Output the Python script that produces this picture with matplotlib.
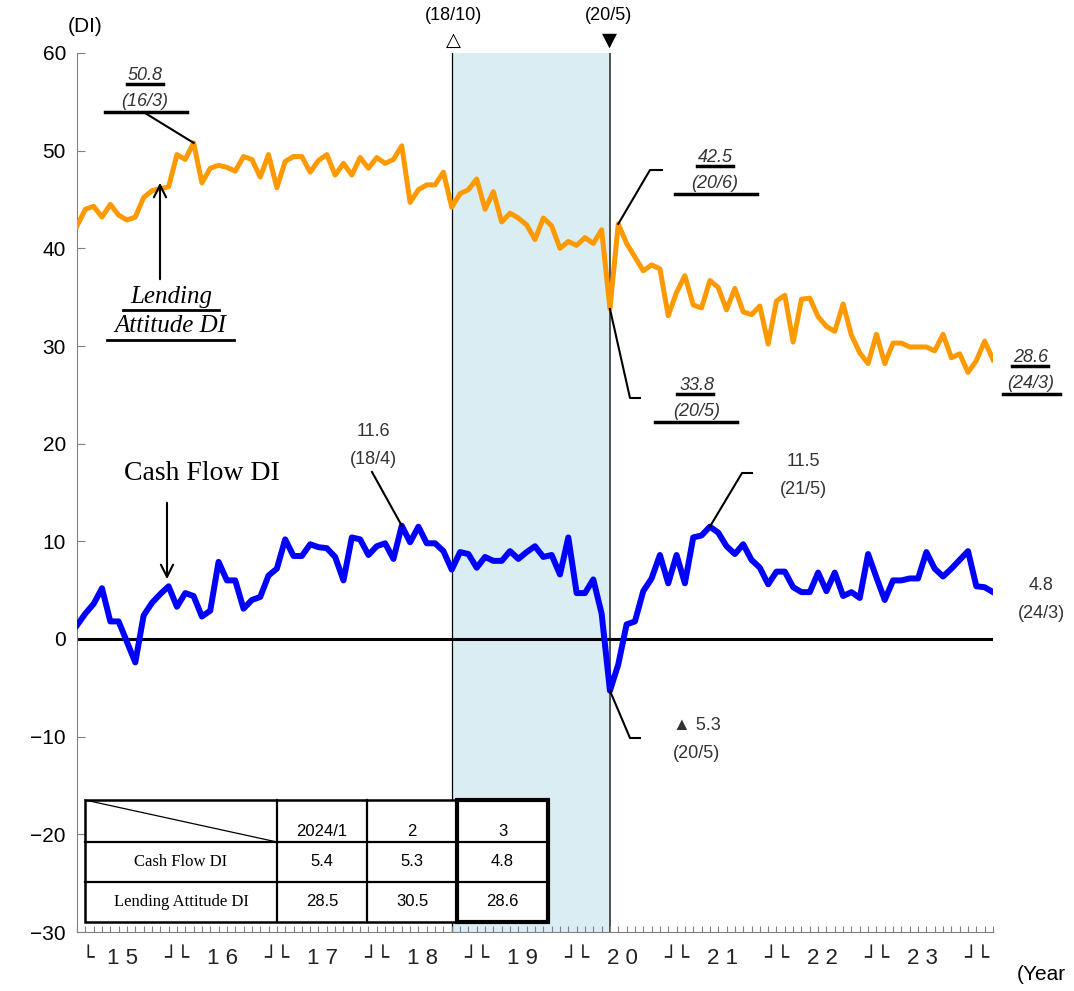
import matplotlib.pyplot as plt
import matplotlib.transforms as mtransforms
from matplotlib.lines import Line2D
from matplotlib.patches import Rectangle
import numpy as np

# monthly data, 2015/1 .. 2024/3
lending_di = [
    42.3, 44.0, 44.3, 43.2, 44.5, 43.4, 42.9, 43.2, 45.2, 45.9, 46.1, 46.3,  # 2015
    49.6, 49.1, 50.8, 46.7, 48.2, 48.5, 48.3, 47.9, 49.4, 49.1, 47.3, 49.6,  # 2016
    46.2, 48.9, 49.4, 49.4, 47.8, 49.0, 49.6, 47.5, 48.7, 47.5, 49.3, 48.2,  # 2017
    49.3, 48.7, 49.1, 50.5, 44.7, 46.0, 46.5, 46.5, 47.8, 44.2, 45.6, 46.0,  # 2018
    47.1, 44.0, 45.8, 42.7, 43.6, 43.1, 42.4, 40.9, 43.1, 42.3, 40.0, 40.7,  # 2019
    40.3, 41.1, 40.5, 41.9, 33.8, 42.5, 40.5, 39.1, 37.7, 38.3, 37.9, 33.1,  # 2020
    35.5, 37.2, 34.2, 33.9, 36.7, 36.0, 33.7, 35.9, 33.5, 33.2, 34.1, 30.2,  # 2021
    34.6, 35.2, 30.4, 34.8, 34.9, 33.0, 32.0, 31.5, 34.3, 31.1, 29.3, 28.2,  # 2022
    31.2, 28.2, 30.3, 30.3, 29.9, 29.9, 29.9, 29.5, 31.2, 28.8, 29.2, 27.3,  # 2023
    28.5, 30.5, 28.6,                                                        # 2024
]
cash_flow_di = [
    1.4, 2.6, 3.6, 5.2, 1.8, 1.8, -0.3, -2.4, 2.4, 3.7, 4.6, 5.4,
    3.3, 4.7, 4.4, 2.3, 2.9, 7.9, 6.0, 6.0, 3.1, 4.0, 4.3, 6.5,
    7.2, 10.2, 8.5, 8.5, 9.7, 9.4, 9.3, 8.4, 6.0, 10.4, 10.2, 8.6,
    9.5, 9.8, 8.2, 11.6, 9.9, 11.5, 9.8, 9.8, 9.0, 7.1, 8.9, 8.7,
    7.3, 8.4, 8.0, 8.0, 9.0, 8.2, 8.9, 9.5, 8.4, 8.6, 6.6, 10.4,
    4.7, 4.7, 6.1, 2.6, -5.3, -2.6, 1.5, 1.8, 4.9, 6.2, 8.6, 5.7,
    8.6, 5.7, 10.4, 10.6, 11.5, 10.9, 9.5, 8.7, 9.7, 8.1, 7.3, 5.6,
    6.9, 6.9, 5.3, 4.8, 4.8, 6.8, 4.9, 6.8, 4.4, 4.8, 4.2, 8.7,
    6.3, 4.0, 6.0, 6.0, 6.2, 6.2, 8.9, 7.2, 6.4, 7.2, 8.1, 9.0,
    5.4, 5.3, 4.8,
]
year_labels = ['1 5', '1 6', '1 7', '1 8', '1 9', '2 0', '2 1', '2 2', '2 3']
table_cols = ['2024/1', '2', '3']
table_rows = ['Cash Flow DI', 'Lending Attitude DI']
table_vals = [['5.4', '5.3', '4.8'], ['28.5', '30.5', '28.6']]
shade_start, shade_end = 45, 64   # 18/10 .. 20/5

W, H = 1074, 991
SANS = ['Liberation Sans', 'DejaVu Sans']
SERIF = ['Liberation Serif', 'DejaVu Serif']


def P(x, y):
    # pixel position (from top-left) -> figure fraction
    return (x / W, 1 - y / H)


fig = plt.figure(figsize=(W / 100, H / 100), dpi=100)
ax = fig.add_axes([77 / W, 1 - 932 / H, (993 - 77) / W, (932 - 53) / H])

x = np.arange(len(lending_di))
ax.set_xlim(0, len(x) - 1)
ax.set_ylim(-30, 60)

ax.axvspan(shade_start, shade_end, color='#DAEDF3', zorder=0, lw=0)
ax.axvline(shade_start, color='black', lw=0.9, zorder=1)
ax.axvline(shade_end, color='#333333', lw=1.2, zorder=1)
ax.axhline(0, color='black', lw=2.2, zorder=2)

ax.plot(x, lending_di, color='#FF9900', lw=3.6, zorder=3, solid_joinstyle='round')
ax.plot(x, cash_flow_di, color='#0000FF', lw=4.3, zorder=4, solid_joinstyle='round')

for s in ['top', 'right']:
    ax.spines[s].set_visible(False)
for s in ['left', 'bottom']:
    ax.spines[s].set_color('#808080')
ax.set_yticks(np.arange(-30, 61, 10))
ax.set_yticklabels([str(v).replace('-', '\u2212') for v in range(-30, 61, 10)],
                   fontsize=15, family=SANS)
ax.tick_params(axis='y', direction='in', length=6, color='#808080', pad=8)
ax.set_xticks(x)
ax.set_xticklabels([])
ax.tick_params(axis='x', direction='in', length=4, color='#808080')

# year labels under the axis
btr = mtransforms.blended_transform_factory(ax.transData, fig.transFigure)
ylab = P(0, 958)[1]
ax.text(0.6, ylab, '\u2514', transform=btr, ha='left', va='center', fontsize=15,
        family=['DejaVu Sans'], color='#222222')
for k, lab in enumerate(year_labels):
    ax.text(12 * k + 5.5, ylab, lab, transform=btr, ha='center', va='center',
            fontsize=16, family=SANS, color='#222222')
    ax.text(12 * (k + 1), ylab, '\u2518\u2514', transform=btr, ha='center', va='center',
            fontsize=15, family=['DejaVu Sans'], color='#222222')
fig.text(*P(1017, 975), '(Year', ha='left', va='center', fontsize=15, family=SANS)

# top markers
fig.text(*P(85, 27), '(DI)', ha='center', va='center', fontsize=15, family=SANS)
fig.text(*P(453, 15), '(18/10)', ha='center', va='center', fontsize=13, family=SANS)
fig.text(*P(453, 40), '\u25b3', ha='center', va='center', fontsize=14, family=['DejaVu Sans'])
fig.text(*P(609, 15), '(20/5)', ha='center', va='center', fontsize=13, family=SANS)
fig.text(*P(609, 40), '\u25bc', ha='center', va='center', fontsize=14, family=['DejaVu Sans'])


def fline(xs, ys, lw=1.5, color='black', zorder=5):
    pts = [P(a, b) for a, b in zip(xs, ys)]
    fig.add_artist(Line2D([p[0] for p in pts], [p[1] for p in pts], lw=lw, color=color,
                          transform=fig.transFigure, zorder=zorder))


def leader(i, val, pts):
    # line from a data point to a pixel point, then optional further pixel segments
    fig_pt = fig.transFigure.inverted().transform(ax.transData.transform((i, val)))
    xs = [fig_pt[0] * W] + [p[0] for p in pts]
    ys = [(1 - fig_pt[1]) * H] + [p[1] for p in pts]
    fline(xs, ys, lw=1.5)


def ulabel(cx, cy, s):
    fig.text(*P(cx, cy), s, ha='center', va='center', fontsize=13, style='italic',
             family=SANS, color='#333333')


# orange annotations (italic, underlined)
def orange_note(cx, y1, v, d, ul_num, ul_date):
    ulabel(cx, y1, v)
    ulabel(cx, y1 + 27, d)
    fline(ul_num, [y1 + 9, y1 + 9], lw=2.5)
    fline(ul_date, [y1 + 37, y1 + 37], lw=2.5)


orange_note(145, 75, '%.1f' % lending_di[14], '(16/3)', [127, 163], [105, 187])
leader(14, lending_di[14], [(145, 113)])
orange_note(715, 157, '%.1f' % lending_di[65], '(20/6)', [697, 733], [675, 757])
leader(65, lending_di[65], [(650, 170), (662, 170)])
orange_note(697, 385, '%.1f' % lending_di[64], '(20/5)', [677, 713], [655, 737])
leader(64, lending_di[64], [(630, 398), (640, 398)])
orange_note(1031, 357, '%.1f' % lending_di[-1], '(24/3)', [1012, 1048], [1003, 1060])


# blue annotations
def blue_note(cx, y1, v, d):
    fig.text(*P(cx, y1), v, ha='center', va='center', fontsize=13, family=SANS, color='#333333')
    fig.text(*P(cx, y1 + 28), d, ha='center', va='center', fontsize=13, family=SANS, color='#333333')


blue_note(373, 431, '%.1f' % cash_flow_di[39], '(18/4)')
leader(39, cash_flow_di[39], [(372, 472)])
blue_note(803, 462, '%.1f' % cash_flow_di[76], '(21/5)')
leader(76, cash_flow_di[76], [(742, 473), (752, 473)])
blue_note(697, 725, '\u25b2 %.1f' % abs(cash_flow_di[64]), '(20/5)')
leader(64, cash_flow_di[64], [(630, 738), (640, 738)])
blue_note(1041, 585, '%.1f' % cash_flow_di[-1], '(24/3)')

# series labels
fig.text(*P(202, 474), 'Cash Flow DI', ha='center', va='center', fontsize=20, family=SERIF)
ax.annotate('', xy=P(167, 582), xycoords='figure fraction', xytext=P(167, 500),
            textcoords='figure fraction',
            arrowprops=dict(arrowstyle='->', lw=1.5, color='black', mutation_scale=22))
fig.text(*P(171, 297), 'Lending', ha='center', va='center', fontsize=18, family=SERIF,
         style='italic')
fig.text(*P(170, 326), 'Attitude DI', ha='center', va='center', fontsize=18, family=SERIF,
         style='italic')
fline([123, 219], [310, 310], lw=2)
fline([107, 234], [340, 340], lw=2)
ax.annotate('', xy=P(160, 180), xycoords='figure fraction', xytext=P(160, 282),
            textcoords='figure fraction',
            arrowprops=dict(arrowstyle='->', lw=1.5, color='black', mutation_scale=22))

# table
cx = [85, 277, 367, 457, 548]
ry = [800, 842, 882, 922]
x0, y0 = P(cx[0], ry[-1])
x1, y1 = P(cx[-1], ry[0])
fig.add_artist(Rectangle((x0, y0), x1 - x0, y1 - y0, transform=fig.transFigure,
                         facecolor='white', edgecolor='black', lw=1.8, zorder=6))
for c in cx[1:-1]:
    fline([c, c], [ry[0], ry[-1]], lw=1.6, zorder=7)
for r in ry[1:-1]:
    fline([cx[0], cx[-1]], [r, r], lw=1.6, zorder=7)
fline([cx[0], cx[1]], [ry[0], ry[1]], lw=0.9, zorder=7)
bx0, by0 = P(cx[3], ry[-1])
bx1, by1 = P(cx[4], ry[0])
fig.add_artist(Rectangle((bx0, by0), bx1 - bx0, by1 - by0, transform=fig.transFigure,
                         facecolor='none', edgecolor='black', lw=3, zorder=8))
for j, col in enumerate(table_cols):
    fig.text(*P((cx[j + 1] + cx[j + 2]) / 2, 831), col, ha='center', va='center',
             fontsize=12, family=SANS, zorder=9)
for r, row in enumerate(table_rows):
    yc = (ry[r + 1] + ry[r + 2]) / 2
    fig.text(*P((cx[0] + cx[1]) / 2, yc), row, ha='center', va='center',
             fontsize=12, family=SERIF, zorder=9)
    for j, v in enumerate(table_vals[r]):
        fig.text(*P((cx[j + 1] + cx[j + 2]) / 2, yc), v, ha='center', va='center',
                 fontsize=12, family=SANS, zorder=9)

fig.savefig('out.png', dpi=100)
